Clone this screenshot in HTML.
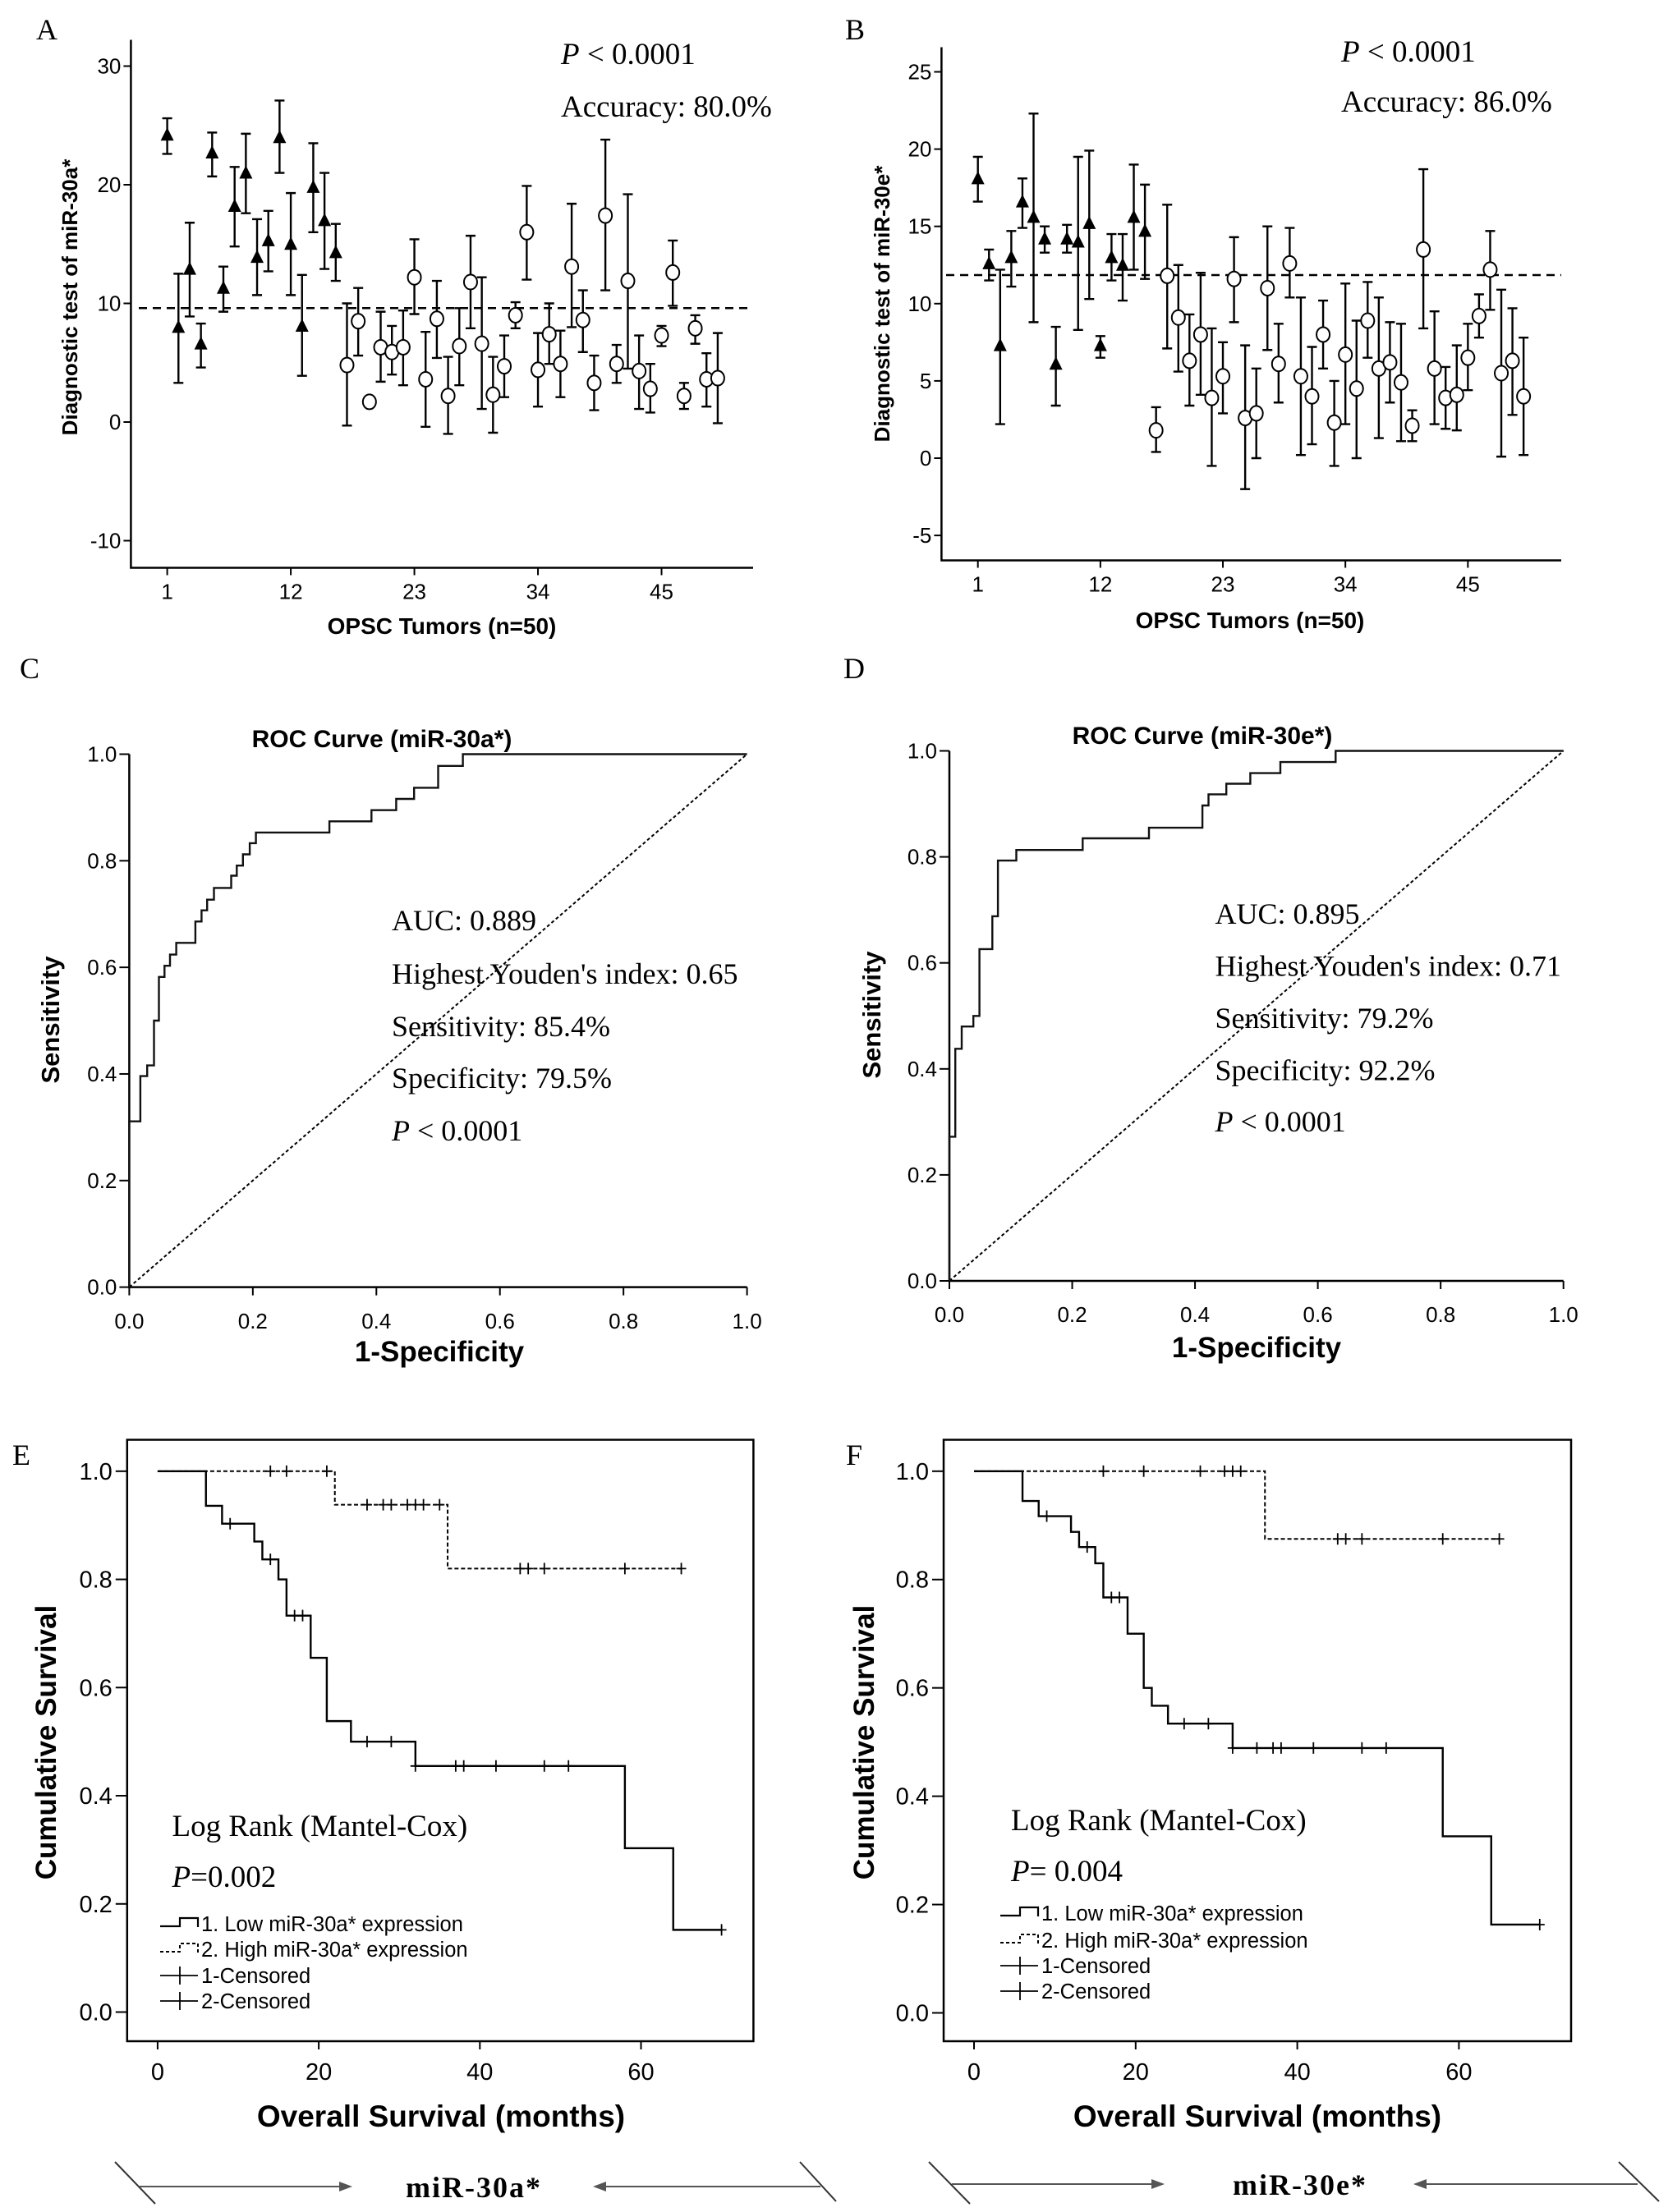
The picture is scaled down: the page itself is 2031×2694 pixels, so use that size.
<!DOCTYPE html>
<html><head><meta charset="utf-8"><style>
html,body{margin:0;padding:0;background:#fff;}
svg{display:block;}
text{fill:#000;}
.tick{font-family:"Liberation Sans Narrow","Liberation Sans",sans-serif;}
.bold{font-family:"Liberation Sans",sans-serif;font-weight:bold;}
.serif{font-family:"Liberation Serif",serif;}
</style></head><body>
<svg id="fig" xmlns="http://www.w3.org/2000/svg" width="2031" height="2694" viewBox="0 0 2031 2694">
<rect x="0" y="0" width="2031" height="2694" fill="#fff"/>
</svg>
<script>
// ---------- Panel A data (miR-30a*) ----------
const aIdx = [1,2,3,4,5,6,7,8,9,10,11,12,13,14,15,16,17,18,19,20,21,22,23,24,25,26,27,28,29,30,31,32,33,34,35,36,37,38,39,40,41,42,43,44,45,46,47,48,49,50];
const aVal = [24.2,8.0,12.9,6.6,22.7,11.3,18.2,21.0,13.9,15.3,24.0,15.0,8.1,19.8,17.0,14.3,4.8,8.5,1.7,6.3,5.9,6.3,12.2,3.6,8.7,2.2,6.4,11.8,6.6,2.3,4.7,9.0,16.0,4.4,7.4,4.9,13.1,8.6,3.3,17.4,4.9,11.9,4.3,2.8,7.3,12.6,2.2,7.9,3.6,3.7];
const aHi = [25.6,12.5,16.8,8.3,24.4,13.1,21.5,24.3,17.1,17.8,27.1,19.3,12.4,23.5,21.0,16.7,10.0,11.3,1.7,9.3,8.1,9.4,15.4,7.6,11.9,5.5,9.6,15.7,12.2,5.5,7.3,10.1,19.9,7.5,10.0,7.7,18.4,11.1,5.6,23.8,6.5,19.2,7.3,4.9,8.1,15.3,3.3,9.0,5.8,7.5];
const aLo = [22.6,3.3,8.9,4.6,20.7,9.3,14.8,17.6,10.7,12.7,21.0,10.7,3.9,16.0,12.9,11.9,-0.3,5.6,1.7,3.4,4.0,3.1,9.1,-0.4,5.4,-1.0,3.1,7.9,1.1,-0.9,2.1,7.9,12.0,1.3,4.9,2.1,8.0,5.9,1.0,11.1,3.3,4.5,1.1,0.8,6.4,9.8,1.1,6.6,1.3,-0.1];
const aCut = 9.6;
const aYTicks = [30,20,10,0,-10];
const aXTicks = [1,12,23,34,45];
// ---------- Panel B data (miR-30e*) ----------
const bVal = [18.1,12.6,7.3,13.0,16.6,15.6,14.2,6.1,14.2,14.0,15.2,7.3,13.0,12.5,15.6,14.7,1.8,11.8,9.1,6.3,8.0,3.9,5.3,11.6,2.6,2.9,11.0,6.1,12.6,5.3,4.0,8.0,2.3,6.7,4.5,8.9,5.8,6.2,4.9,2.1,13.5,5.8,3.9,4.1,6.5,9.2,12.2,5.5,6.3,4.0];
const bHi = [19.5,13.5,12.2,14.7,18.1,22.3,15.0,8.5,15.1,19.5,19.9,7.9,14.5,14.5,19.0,17.7,3.3,16.4,12.5,9.3,12.0,8.4,7.5,14.3,7.3,5.8,15.0,8.7,14.9,10.4,7.2,10.2,5.0,11.3,8.9,11.4,10.4,8.8,8.7,3.1,18.7,9.5,5.9,7.3,8.7,10.6,14.7,10.9,9.7,7.8];
const bLo = [16.6,11.5,2.2,11.1,14.9,8.8,13.3,3.4,13.3,8.3,10.3,6.5,11.5,10.2,12.2,11.6,0.4,7.1,5.6,3.4,4.1,-0.5,2.9,8.8,-2.0,0.0,7.0,3.6,10.4,0.2,0.9,5.8,-0.5,2.2,0.0,6.5,1.3,3.6,1.1,1.1,8.4,2.2,1.9,1.8,4.4,7.8,9.6,0.1,2.8,0.2];
const bCut = 11.85;
const bYTicks = [25,20,15,10,5,0,-5];
const nTriangles = 16;
// ---------- ROC data ----------
const cFpr = [0,0,0.018,0.018,0.029,0.029,0.040,0.040,0.048,0.048,0.057,0.057,0.066,0.066,0.076,0.076,0.107,0.107,0.117,0.117,0.126,0.126,0.137,0.137,0.165,0.165,0.174,0.174,0.184,0.184,0.195,0.195,0.205,0.205,0.324,0.324,0.392,0.392,0.432,0.432,0.461,0.461,0.500,0.500,0.540,0.540,1.0];
const cTpr = [0,0.311,0.311,0.396,0.396,0.416,0.416,0.500,0.500,0.582,0.582,0.603,0.603,0.624,0.624,0.646,0.646,0.686,0.686,0.707,0.707,0.727,0.727,0.749,0.749,0.772,0.772,0.791,0.791,0.812,0.812,0.833,0.833,0.853,0.853,0.874,0.874,0.895,0.895,0.916,0.916,0.937,0.937,0.978,0.978,1.0,1.0];
const dFpr = [0,0,0.0096,0.0096,0.020,0.020,0.039,0.039,0.049,0.049,0.070,0.070,0.079,0.079,0.109,0.109,0.217,0.217,0.325,0.325,0.412,0.412,0.422,0.422,0.451,0.451,0.490,0.490,0.539,0.539,0.629,0.629,1.0];
const dTpr = [0,0.272,0.272,0.438,0.438,0.480,0.480,0.500,0.500,0.626,0.626,0.688,0.688,0.793,0.793,0.813,0.813,0.835,0.835,0.855,0.855,0.897,0.897,0.918,0.918,0.938,0.938,0.958,0.958,0.979,0.979,1.0,1.0];
const rocTicks = [0,0.2,0.4,0.6,0.8,1.0];
// ---------- Kaplan-Meier data ----------
const eLowT = [0,6,8,12,13,15,16,19,21,24,32,58,64,70];
const eLowS = [1,0.936,0.903,0.870,0.837,0.800,0.733,0.655,0.538,0.500,0.455,0.303,0.152,0.152];
const eLowCens = [9,14,17,18,26,29,32,37,38,42,48,51,70];
const eHighT = [0,22,36,65];
const eHighS = [1,0.938,0.820,0.820];
const eHighCens = [14,16,21,26,28,29,31,32,33,35,45,46,48,58,65];
const fLowT = [0,6,8,12,13,15,16,19,21,22,24,32,58,64,70];
const fLowS = [1,0.945,0.917,0.888,0.860,0.830,0.767,0.700,0.600,0.567,0.534,0.489,0.326,0.163,0.163];
const fLowCens = [9,14,17,18,26,29,32,35,37,38,42,48,51,70];
const fHighT = [0,36,65];
const fHighS = [1,0.875,0.875];
const fHighCens = [16,21,28,31,32,33,45,46,48,58,65];
const kmYTicks = [0,0.2,0.4,0.6,0.8,1.0];
const kmXTicks = [0,20,40,60];

const NS = "http://www.w3.org/2000/svg";
const svg = document.getElementById('fig');
function mk(tag, attrs, parent){
  const el = document.createElementNS(NS, tag);
  for (const k in attrs) el.setAttribute(k, attrs[k]);
  (parent||svg).appendChild(el);
  return el;
}
function grp(name){
  const g = mk('g', {});
  
  
  return g;
}
function txt(g, s, x, y, cls, size, anchor, extra){
  const t = mk('text', Object.assign({x:x, y:y, class:cls, 'font-size':size, 'text-anchor':anchor||'start'}, extra||{}), g);
  t.textContent = s;
  return t;
}

// ================= Scatter panels =================
function scatterPanel(cfg){
  const g = grp(cfg.name);
  const X = i => cfg.x1 + (i-1)*cfg.dx;
  const Y = v => cfg.y0 - v*cfg.py;
  const lbl = txt(g, cfg.letter, cfg.lx, cfg.ly, 'serif', 36);
  
  
  const ax = mk('path', {d:`M${cfg.left},${cfg.top} V${cfg.bottom} H${cfg.right}`, stroke:'#000', 'stroke-width':2.5, fill:'none'}, g);
  
  
  cfg.yTicks.forEach(v=>{
    mk('line', {x1:cfg.left-9, x2:cfg.left, y1:Y(v), y2:Y(v), stroke:'#000','stroke-width':2}, g);
    const t = txt(g, String(v), cfg.left-12, Y(v)+9, 'tick', 26, 'end');
    
    
  });
  aXTicks.forEach(v=>{
    mk('line', {x1:X(v), x2:X(v), y1:cfg.bottom, y2:cfg.bottom+9, stroke:'#000','stroke-width':2}, g);
    const t = txt(g, String(v), X(v), cfg.bottom+38, 'tick', 26, 'middle');
    
    
  });
  const cl = mk('line', {x1:cfg.cutX1, x2:cfg.right, y1:Y(cfg.cut), y2:Y(cfg.cut), stroke:'#000','stroke-width':2.5,'stroke-dasharray':'10,7'}, g);
  
  
  cfg.val.forEach((v,k)=>{
    const i = aIdx[k], x = X(i);
    if (cfg.hi[k] !== cfg.lo[k]) {
      const eb = mk('path', {d:`M${x},${Y(cfg.hi[k])} V${Y(cfg.lo[k])} M${x-6},${Y(cfg.hi[k])} H${x+6} M${x-6},${Y(cfg.lo[k])} H${x+6}`, stroke:'#000','stroke-width':2.4, fill:'none'}, g);
      
      
    }
    let m;
    if (i <= nTriangles) {
      const y = Y(v);
      m = mk('polygon', {points:`${x},${y-9} ${x-8},${y+7} ${x+8},${y+7}`, fill:'#000'}, g);
    } else {
      m = mk('ellipse', {cx:x, cy:Y(v), rx:8, ry:9, fill:'#fff', stroke:'#000','stroke-width':2}, g);
    }
    
    
  });
  const yt = txt(g, cfg.yTitle, 0, 0, 'bold', 26, 'middle', {transform:`translate(${cfg.yTitleX},${cfg.yTitleY}) rotate(-90)`});
  
  
  const xt = txt(g, 'OPSC Tumors (n=50)', cfg.xTitleX, cfg.xTitleY, 'bold', 28, 'middle');
  
  
  const p = mk('text', {x:cfg.px, y:cfg.py1, class:'serif','font-size':37}, g);
  p.innerHTML = '<tspan font-style="italic">P</tspan> &lt; 0.0001';
  
  
  const acc = txt(g, cfg.acc, cfg.px, cfg.py2, 'serif', 37);
  
  
}
scatterPanel({name:'panel-a-scatter', letter:'A', lx:44, ly:48, left:159.4, right:917, top:48.5, bottom:691.5,
  x1:203.6, dx:13.68, y0:514, py:14.45, yTicks:aYTicks, cut:aCut, cutX1:169,
  val:aVal, hi:aHi, lo:aLo, yTitle:'Diagnostic test of miR-30a*', yTitleX:94, yTitleY:362,
  xTitleX:538, xTitleY:772, px:683, py1:78, py2:142, acc:'Accuracy: 80.0%'});
scatterPanel({name:'panel-b-scatter', letter:'B', lx:1029, ly:48, left:1146.4, right:1901, top:57.5, bottom:682.5,
  x1:1190.7, dx:13.56, y0:558, py:18.82, yTicks:bYTicks, cut:bCut, cutX1:1152,
  val:bVal, hi:bHi, lo:bLo, yTitle:'Diagnostic test of miR-30e*', yTitleX:1083, yTitleY:370,
  xTitleX:1522, xTitleY:765, px:1633, py1:75, py2:136, acc:'Accuracy: 86.0%'});

// ================= ROC panels =================
function rocPanel(cfg){
  const g = grp(cfg.name);
  const X = v => cfg.x0 + v*(cfg.x1-cfg.x0);
  const Y = v => cfg.y0 - v*(cfg.y0-cfg.y1);
  const lbl = txt(g, cfg.letter, cfg.lx, cfg.ly, 'serif', 36);
  
  
  const ax = mk('path', {d:`M${X(0)},${Y(1)} V${Y(0)} H${X(1)}`, stroke:'#000','stroke-width':2.5, fill:'none'}, g);
  
  
  rocTicks.forEach(v=>{
    mk('line', {x1:X(0)-12, x2:X(0), y1:Y(v), y2:Y(v), stroke:'#000','stroke-width':2}, g);
    mk('line', {x1:X(v), x2:X(v), y1:Y(0), y2:Y(0)+10, stroke:'#000','stroke-width':2}, g);
    const ty = txt(g, v.toFixed(1), X(0)-15, Y(v)+9, 'tick', 26, 'end');
    
    
    const tx = txt(g, v.toFixed(1), X(v), cfg.xlabY, 'tick', 26, 'middle');
    
    
  });
  const diag = mk('line', {x1:X(0), y1:Y(0), x2:X(1), y2:Y(1), stroke:'#000','stroke-width':2,'stroke-dasharray':'4,3'}, g);
  
  
  let d = '';
  cfg.fpr.forEach((f,k)=>{ d += (k?'L':'M') + X(f).toFixed(1) + ',' + Y(cfg.tpr[k]).toFixed(1) + ' '; });
  const curve = mk('path', {d:d, stroke:'#111','stroke-width':2.4, fill:'none'}, g);
  
  
  const tt = txt(g, cfg.title, cfg.titleX, cfg.titleY, 'bold', 30, 'middle');
  
  
  const yt = txt(g, 'Sensitivity', 0, 0, 'bold', 31, 'middle', {transform:`translate(${cfg.ytX},${cfg.ytY}) rotate(-90)`});
  
  
  const xt = txt(g, '1-Specificity', cfg.xtX, cfg.xtY, 'bold', 35, 'middle');
  
  
  const names = ['auc-label','youden-label','sensitivity-label','specificity-label'];
  cfg.lines.forEach((s,k)=>{
    const t = txt(g, s, cfg.tx, cfg.tys[k], 'serif', 36);
    
    
  });
  const p = mk('text', {x:cfg.tx, y:cfg.tys[4], class:'serif','font-size':36}, g);
  p.innerHTML = '<tspan font-style="italic">P</tspan> &lt; 0.0001';
  
  
}
rocPanel({name:'panel-c-roc', letter:'C', lx:24, ly:826, x0:157.4, x1:909.6, y0:1567.6, y1:918.5, xlabY:1618,
  fpr:cFpr, tpr:cTpr, title:'ROC Curve (miR-30a*)', titleX:465, titleY:910, ytX:72, ytY:1242, xtX:535, xtY:1658,
  tx:477, tys:[1133,1198,1262,1325,1389],
  lines:['AUC: 0.889',"Highest Youden's index: 0.65",'Sensitivity: 85.4%','Specificity: 79.5%']});
rocPanel({name:'panel-d-roc', letter:'D', lx:1027, ly:826, x0:1156, x1:1903.7, y0:1560, y1:914.5, xlabY:1610,
  fpr:dFpr, tpr:dTpr, title:'ROC Curve (miR-30e*)', titleX:1464, titleY:906, ytX:1072, ytY:1236, xtX:1530, xtY:1653,
  tx:1479.5, tys:[1125,1188.5,1252,1315.5,1378],
  lines:['AUC: 0.895',"Highest Youden's index: 0.71",'Sensitivity: 79.2%','Specificity: 92.2%']});

// ================= Kaplan-Meier panels =================
function stepPath(T, S, X, Y){
  let d = `M${X(T[0])},${Y(S[0])}`;
  for (let k=1;k<T.length;k++){ d += ` H${X(T[k])} V${Y(S[k])}`; }
  return d;
}
function survAt(T,S,t){ let s=S[0]; for(let k=0;k<T.length;k++){ if(T[k]<=t) s=S[k]; } return s; }
function kmPanel(cfg){
  const g = grp(cfg.name);
  const X = t => cfg.x0 + t*cfg.pm;
  const Y = s => cfg.y0 - s*cfg.ps;
  const lbl = txt(g, cfg.letter, cfg.lx, cfg.ly, 'serif', 36);
  
  
  const box = mk('rect', {x:cfg.left, y:cfg.top, width:cfg.right-cfg.left, height:cfg.bottom-cfg.top, fill:'none', stroke:'#000','stroke-width':2.5}, g);
  
  
  kmYTicks.forEach(v=>{
    mk('line', {x1:cfg.left-14, x2:cfg.left, y1:Y(v), y2:Y(v), stroke:'#000','stroke-width':2}, g);
    const t = txt(g, v.toFixed(1), cfg.left-18, Y(v)+10, 'tick', 29, 'end');
    
    
  });
  kmXTicks.forEach(v=>{
    mk('line', {x1:X(v), x2:X(v), y1:cfg.bottom, y2:cfg.bottom+10, stroke:'#000','stroke-width':2}, g);
    const t = txt(g, String(v), X(v), 2533, 'tick', 29, 'middle');
    
    
  });
  const low = mk('path', {d:stepPath(cfg.lowT,cfg.lowS,X,Y), stroke:'#000','stroke-width':2.4, fill:'none'}, g);
  
  
  const high = mk('path', {d:stepPath(cfg.highT,cfg.highS,X,Y), stroke:'#000','stroke-width':2,'stroke-dasharray':'5,3', fill:'none'}, g);
  
  
  [[cfg.lowCens,cfg.lowT,cfg.lowS],[cfg.highCens,cfg.highT,cfg.highS]].forEach(([C,T,S])=>{
    C.forEach(t=>{
      const x = X(t), y = Y(survAt(T,S,t));
      const c = mk('path', {d:`M${x},${y-7} V${y+7} M${x-6},${y} H${x+6}`, stroke:'#000','stroke-width':1.8}, g);
      
      
    });
  });
  const yt = txt(g, 'Cumulative Survival', 0, 0, 'bold', 35, 'middle', {transform:`translate(${cfg.ytX},${cfg.ytY}) rotate(-90)`});
  
  
  const xt = txt(g, 'Overall Survival (months)', cfg.xtX, 2590, 'bold', 37, 'middle');
  
  
  const lr = txt(g, 'Log Rank (Mantel-Cox)', cfg.tx, cfg.lrY, 'serif', 37);
  
  
  const p = mk('text', {x:cfg.tx, y:cfg.pY, class:'serif','font-size':37}, g);
  p.innerHTML = '<tspan font-style="italic">P</tspan>' + cfg.pTxt;
  
  
  const lg = mk('g', {}, g);
  
  
  const L = cfg.legX, Ys = cfg.legY;
  mk('path', {d:`M${L},${Ys[0]+3} H${L+24} V${Ys[0]-7} H${L+46} V${Ys[0]+4}`, stroke:'#000','stroke-width':2.2, fill:'none'}, lg);
  mk('path', {d:`M${L},${Ys[1]+3} H${L+24} V${Ys[1]-7} H${L+46} V${Ys[1]+4}`, stroke:'#000','stroke-width':2,'stroke-dasharray':'4,3', fill:'none'}, lg);
  [2,3].forEach(k=>{ mk('path', {d:`M${L},${Ys[k]} H${L+46} M${L+24},${Ys[k]-11} V${Ys[k]+11}`, stroke:'#000','stroke-width':1.8}, lg); });
  const entries = ['1. Low miR-30a* expression','2. High miR-30a* expression','1-Censored','2-Censored'];
  entries.forEach((s,k)=>{
    const t = txt(lg, s, L+50, Ys[k]+9, 'tick', 25.5);
    
    
  });
  const ag = mk('g', {}, g);
  
  
  const A = cfg.arr;
  mk('line', {x1:A.d1[0], y1:A.d1[1], x2:A.d1[2], y2:A.d1[3], stroke:'#333','stroke-width':2}, ag);
  mk('line', {x1:A.d2[0], y1:A.d2[1], x2:A.d2[2], y2:A.d2[3], stroke:'#333','stroke-width':2}, ag);
  mk('line', {x1:A.l1, y1:A.y, x2:A.l2-14, y2:A.y, stroke:'#555','stroke-width':2}, ag);
  mk('polygon', {points:`${A.l2},${A.y} ${A.l2-16},${A.y-6} ${A.l2-16},${A.y+6}`, fill:'#555'}, ag);
  mk('line', {x1:A.r1, y1:A.y, x2:A.r2+14, y2:A.y, stroke:'#555','stroke-width':2}, ag);
  mk('polygon', {points:`${A.r2},${A.y} ${A.r2+16},${A.y-6} ${A.r2+16},${A.y+6}`, fill:'#555'}, ag);
  const mt = txt(ag, cfg.mir, A.cx, A.y+13, 'serif', 36, 'middle', {'font-weight':'bold','letter-spacing':'2'});
  
  
}
kmPanel({name:'panel-e-survival', letter:'E', lx:15, ly:1784, left:154.8, right:917.4, top:1753.5, bottom:2486,
  x0:191.9, pm:9.81, y0:2450.5, ps:658.7,
  lowT:eLowT, lowS:eLowS, lowCens:eLowCens, highT:eHighT, highS:eHighS, highCens:eHighCens,
  ytX:68, ytY:2122, xtX:537, tx:209.5, lrY:2236, pY:2298, pTxt:'=0.002',
  legX:195, legY:[2343,2374,2406,2437],
  arr:{d1:[140,2633,189,2684], d2:[974,2633,1018,2681], l1:170, l2:429, r1:999, r2:722, y:2663, cx:577}, mir:'miR-30a*'});
kmPanel({name:'panel-f-survival', letter:'F', lx:1030, ly:1784, left:1149, right:1913, top:1753.5, bottom:2486,
  x0:1186, pm:9.84, y0:2451.5, ps:659.7,
  lowT:fLowT, lowS:fLowS, lowCens:fLowCens, highT:fHighT, highS:fHighS, highCens:fHighCens,
  ytX:1064, ytY:2122, xtX:1531, tx:1231, lrY:2229, pY:2291, pTxt:'= 0.004',
  legX:1218, legY:[2330,2363,2394,2425],
  arr:{d1:[1131,2633,1181,2684], d2:[1971,2633,2020,2681], l1:1159, l2:1418, r1:1994, r2:1721, y:2660, cx:1583}, mir:'miR-30e*'});
</script>
</body></html>
